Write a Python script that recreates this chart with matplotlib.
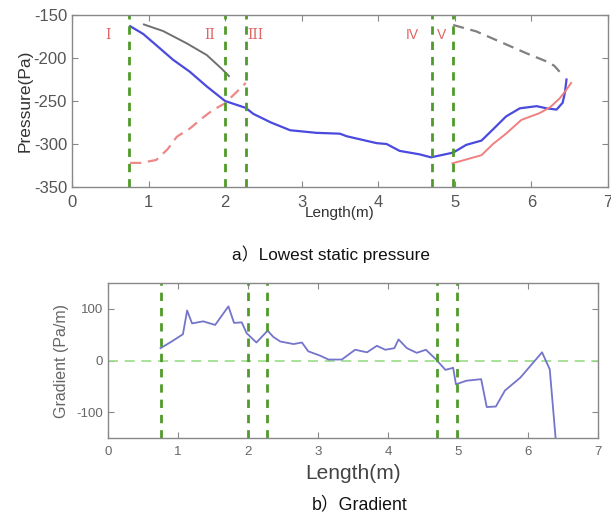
import matplotlib
matplotlib.use("Agg")
import matplotlib.pyplot as plt

plt.rcParams['font.family'] = ['Liberation Sans', 'DejaVu Sans']
plt.rcParams['axes.unicode_minus'] = False

# ---- a) lowest static pressure ----
blue_x = [0.76, 0.93, 1.10, 1.32, 1.54, 1.76, 2.00, 2.27, 2.37, 2.60, 2.85, 3.19, 3.50, 3.59,
          3.98, 4.11, 4.28, 4.54, 4.69, 4.98, 5.15, 5.35, 5.50, 5.67, 5.85, 6.07, 6.20, 6.33,
          6.41, 6.44, 6.46]
blue_p = [-163, -172, -185, -202, -216, -233, -250, -258, -265, -275, -284, -287, -288, -291,
          -299, -300, -308, -312, -315.5, -310, -301, -296, -283, -268, -258.5, -256, -258.5, -260,
          -252, -240, -225]

pink_x = [4.97, 5.15, 5.35, 5.50, 5.67, 5.87, 6.11, 6.25, 6.37, 6.45, 6.52]
pink_p = [-322.5, -318, -313, -300, -288, -272, -264, -257, -247, -238, -229]

grey_x = [0.94, 1.19, 1.50, 1.76, 1.95, 2.05]
grey_p = [-161, -168.6, -183, -196.5, -212, -221]

grey_dash_x = [4.98, 5.28, 5.59, 5.94, 6.20, 6.30, 6.37]
grey_dash_p = [-161.6, -169, -181, -194.6, -204, -209, -216]

pink_dash_x = [0.76, 0.89, 1.10, 1.25, 1.37, 1.54, 1.70, 1.84, 2.00, 2.27]
pink_dash_p = [-322, -322, -318.6, -306, -291.5, -282, -270, -260.5, -252.7, -229]

zone_x = [0.75, 2.0, 2.27, 4.7, 4.98]
zone_names = ["I", "II", "III", "IV", "V"]
zone_label_x = [0.47, 1.80, 2.39, 4.45, 4.83]

# ---- b) gradient ----
grad_x = [0.75, 0.91, 1.07, 1.13, 1.20, 1.36, 1.53, 1.72, 1.80, 1.91, 1.98, 2.12, 2.28, 2.36,
          2.46, 2.65, 2.77, 2.86, 3.03, 3.15, 3.34, 3.53, 3.70, 3.84, 3.96, 4.09, 4.15, 4.27,
          4.41, 4.54, 4.68, 4.82, 4.93, 4.97, 5.12, 5.33, 5.41, 5.54, 5.67, 5.89, 6.20, 6.31,
          6.40]
grad_g = [24, 37, 51, 97, 72, 76, 69, 105, 73, 74, 53, 35, 58, 46,
          37, 32, 35, 18, 9.5, 2, 2, 21, 16, 28.6, 21, 24, 41, 24,
          15, 21, 3, -18, -14, -46, -39, -36, -90, -89, -58, -33, 16, -17,
          -160]

tick_col = "#555555"
spine_col = "#888888"
green = "#4f9a2a"

fig = plt.figure(figsize=(6.11, 5.18), dpi=100)


def style_axes(ax, size, col=tick_col):
    for s in ax.spines.values():
        s.set_color(spine_col)
        s.set_linewidth(1.0)
    ax.tick_params(direction="in", top=True, right=True, colors=spine_col,
                   labelcolor=col, labelsize=size, length=4)
    ax.tick_params(axis="x", pad=6)


ax1 = fig.add_axes([0.1178, 0.639, 0.877, 0.332])
ax1.plot(blue_x, blue_p, color="#4a4ade", lw=1.6)
ax1.plot(pink_x, pink_p, color="#ee8080", lw=1.4)
ax1.plot(grey_x, grey_p, color="#707070", lw=1.4)
ax1.plot(grey_dash_x, grey_dash_p, color="#808080", lw=1.6, ls=(0, (5, 3)))
ax1.plot(pink_dash_x, pink_dash_p, color="#ee8888", lw=1.6, ls=(0, (5, 3)))
for xv in zone_x:
    ax1.axvline(xv, color=green, lw=2.0, ls=(0, (3, 2.5)))
for name, lx in zip(zone_names, zone_label_x):
    fam = "DejaVu Serif" if "V" not in name else "Liberation Sans"
    ax1.text(lx, -173, name, color="#e06464", fontsize=10, family=fam,
             ha="center", va="center")
ax1.set_xlim(0, 7)
ax1.set_ylim(-350, -150)
ax1.set_yticks([-350, -300, -250, -200, -150])
ax1.set_xticks(range(0, 8))
style_axes(ax1, 12)
ax1.set_ylabel("Pressure(Pa)", fontsize=12.5, color="#333333", labelpad=1)
ax1.set_xlabel("Length(m)", fontsize=11, color="#333333", labelpad=-3)

ax2 = fig.add_axes([0.1768, 0.1544, 0.802, 0.299])
ax2.axhline(0, color="#99dd88", lw=1.2, ls=(0, (6, 4)))
ax2.plot(grad_x, grad_g, color="#7474cc", lw=1.3)
for xv in zone_x:
    ax2.axvline(xv, color=green, lw=2.0, ls=(0, (3, 2.5)))
ax2.set_xlim(0, 7)
ax2.set_ylim(-150, 150)
ax2.set_yticks([-100, 0, 100])
ax2.set_xticks(range(0, 8))
style_axes(ax2, 9.5, "#666666")
ax2.set_ylabel("Gradient (Pa/m)", fontsize=11.5, color="#666666", labelpad=5)
ax2.set_xlabel("Length(m)", fontsize=15, color="#444444", labelpad=4)

cap_font = ["Liberation Sans", "Noto Sans CJK SC"]
fig.text(0.541, 1 - 254 / 518, "a）Lowest static pressure", fontsize=12.3,
         family=cap_font, ha="center", va="center", color="#111111")
fig.text(0.589, 1 - 505 / 518, "b）Gradient", fontsize=12.8,
         family=cap_font, ha="center", va="center", color="#111111")

fig.savefig("out.png", dpi=100)
